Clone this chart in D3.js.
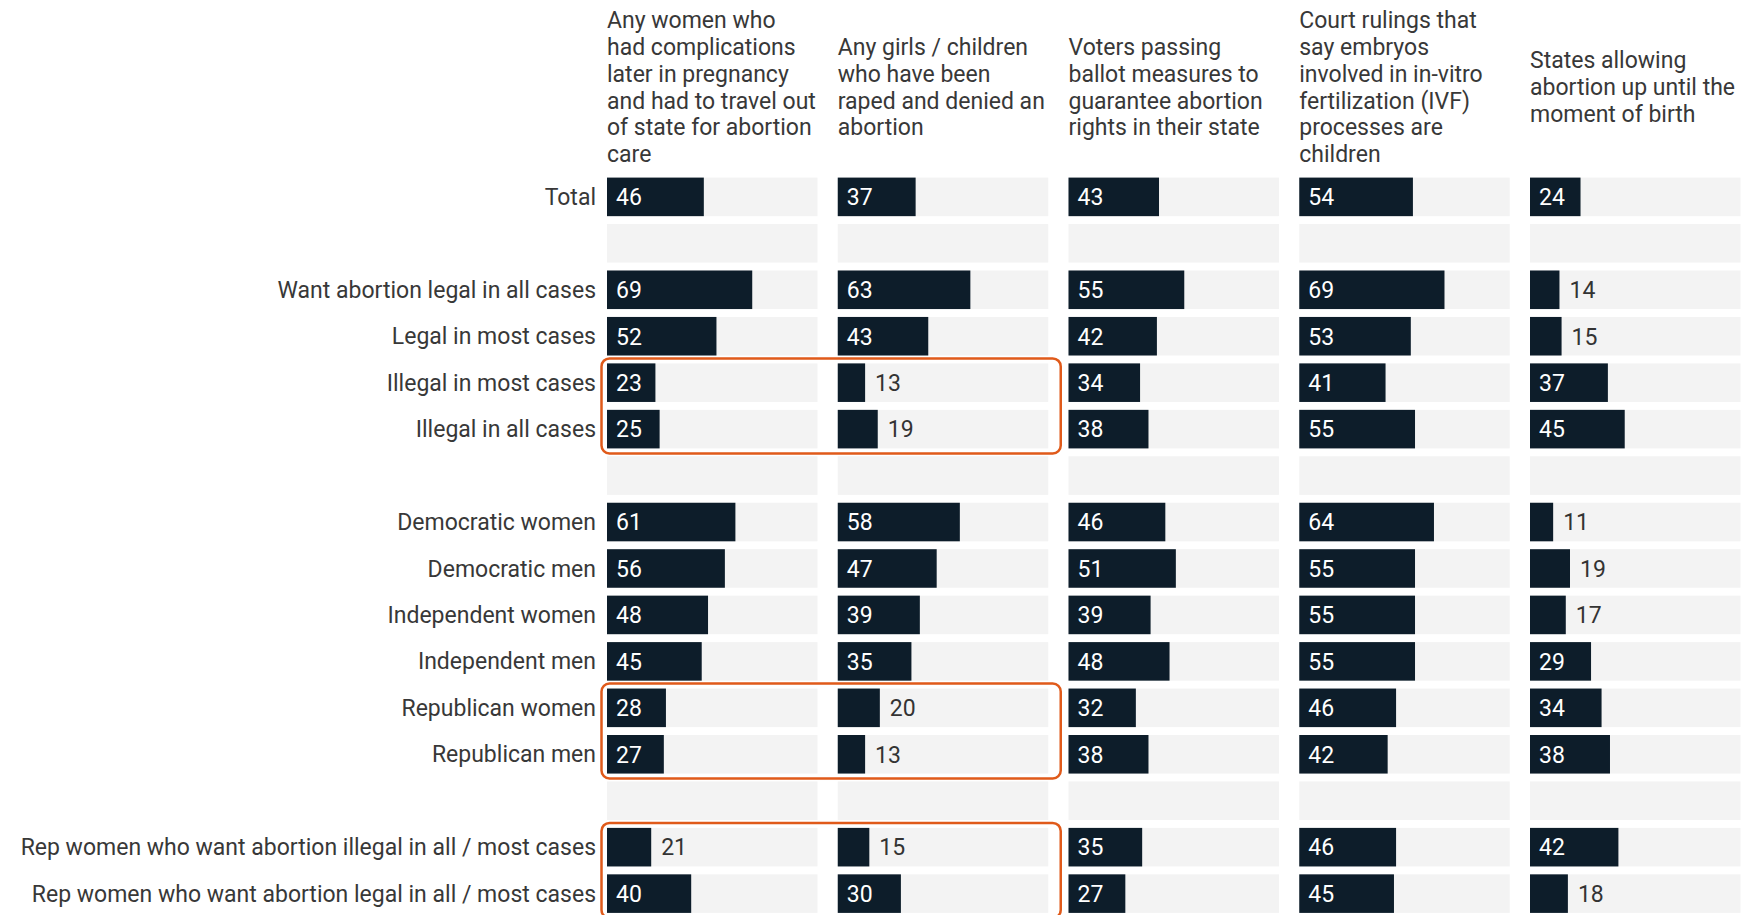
<!DOCTYPE html>
<html>
<head>
<meta charset="utf-8">
<script src="https://cdn.jsdelivr.net/npm/d3@7"></script>
<style>
  html, body { margin: 0; padding: 0; background: #ffffff; }
  svg { display: block; font-family: Roboto, "Noto Sans", sans-serif; }
</style>
</head>
<body>
<svg id="chart" width="1744" height="915"></svg>
<script>
// ---- data ----
const categories = [
  "Total", "",
  "Want abortion legal in all cases", "Legal in most cases", "Illegal in most cases", "Illegal in all cases", "",
  "Democratic women", "Democratic men", "Independent women", "Independent men", "Republican women", "Republican men", "",
  "Rep women who want abortion illegal in all / most cases", "Rep women who want abortion legal in all / most cases"
];

const headerComplications = ["Any women who", "had complications", "later in pregnancy", "and had to travel out", "of state for abortion", "care"];
const headerRaped = ["Any girls / children", "who have been", "raped and denied an", "abortion"];
const headerBallot = ["Voters passing", "ballot measures to", "guarantee abortion", "rights in their state"];
const headerIVF = ["Court rulings that", "say embryos", "involved in in-vitro", "fertilization (IVF)", "processes are", "children"];
const headerBirth = ["States allowing", "abortion up until the", "moment of birth"];

const valuesComplications = [46, null, 69, 52, 23, 25, null, 61, 56, 48, 45, 28, 27, null, 21, 40];
const valuesRaped         = [37, null, 63, 43, 13, 19, null, 58, 47, 39, 35, 20, 13, null, 15, 30];
const valuesBallot        = [43, null, 55, 42, 34, 38, null, 46, 51, 39, 48, 32, 38, null, 35, 27];
const valuesIVF           = [54, null, 69, 53, 41, 55, null, 64, 55, 55, 55, 46, 42, null, 46, 45];
const valuesBirth         = [24, null, 14, 15, 37, 45, null, 11, 19, 17, 29, 34, 38, null, 42, 18];

// highlighted groups: [first row, last row, first panel, last panel]
const highlights = [[4, 5, 0, 1], [11, 12, 0, 1], [14, 15, 0, 1]];

const headers = [headerComplications, headerRaped, headerBallot, headerIVF, headerBirth];
const series = [valuesComplications, valuesRaped, valuesBallot, valuesIVF, valuesBirth];

// ---- layout ----
const svg = d3.select("#chart");
const barColor = "#0d1d2a";
const bgColor = "#f3f3f3";
const textColor = "#383838";
const hiColor = "#e05a1a";
const fontSize = 23;

const panelStep = 230.75, panelPad = 0.0878;
const px = d3.scaleBand()
  .domain(d3.range(series.length))
  .range([607 - panelStep * panelPad / 2, 607 - panelStep * panelPad / 2 + panelStep * series.length])
  .paddingInner(panelPad).paddingOuter(panelPad / 2);

const rowStep = 46.45, rowPad = 0.17;
const y = d3.scaleBand()
  .domain(d3.range(categories.length))
  .range([177.6 - rowStep * rowPad / 2, 177.6 - rowStep * rowPad / 2 + rowStep * categories.length])
  .paddingInner(rowPad).paddingOuter(rowPad / 2);

const x = d3.scaleLinear().domain([0, 100]).range([0, px.bandwidth()]);

// row labels
svg.append("g").selectAll("text")
  .data(categories)
  .join("text")
  .attr("x", 596)
  .attr("y", (d, i) => y(i) + y.bandwidth() / 2)
  .attr("dy", "0.35em")
  .attr("text-anchor", "end")
  .attr("font-size", fontSize)
  .attr("fill", textColor)
  .text(d => d);

// panels
const headerCenter = 87, lineH = 26.9;
series.forEach((vals, p) => {
  const g = svg.append("g").attr("transform", `translate(${px(p)},0)`);

  // header
  const lines = headers[p];
  const t = g.append("text").attr("font-size", fontSize).attr("fill", textColor);
  lines.forEach((ln, k) => {
    t.append("tspan")
      .attr("x", 0)
      .attr("y", headerCenter + (k - (lines.length - 1) / 2) * lineH)
      .attr("dy", "0.35em")
      .text(ln);
  });

  // background bands
  g.selectAll("rect.bg")
    .data(vals)
    .join("rect")
    .attr("class", "bg")
    .attr("x", 0)
    .attr("y", (d, i) => y(i))
    .attr("width", px.bandwidth())
    .attr("height", y.bandwidth())
    .attr("fill", bgColor);

  const rows = vals.map((v, i) => ({ v, i })).filter(d => d.v !== null);

  g.selectAll("rect.bar")
    .data(rows)
    .join("rect")
    .attr("class", "bar")
    .attr("x", 0)
    .attr("y", d => y(d.i))
    .attr("width", d => x(d.v))
    .attr("height", y.bandwidth())
    .attr("fill", barColor);

  g.selectAll("text.val")
    .data(rows)
    .join("text")
    .attr("class", "val")
    .attr("x", d => x(d.v) > 45 ? 9 : x(d.v) + 10)
    .attr("y", d => y(d.i) + y.bandwidth() / 2)
    .attr("dy", "0.36em")
    .attr("font-size", fontSize)
    .attr("fill", d => x(d.v) > 45 ? "#ffffff" : "#333333")
    .text(d => d.v);
});

// highlight boxes
svg.append("g").selectAll("rect")
  .data(highlights)
  .join("rect")
  .attr("x", d => px(d[2]) - 5.5)
  .attr("y", d => y(d[0]) - 5)
  .attr("width", d => px(d[3]) + px.bandwidth() + 12.5 - (px(d[2]) - 5.5))
  .attr("height", d => y(d[1]) + y.bandwidth() + 5 - (y(d[0]) - 5))
  .attr("rx", 8)
  .attr("fill", "none")
  .attr("stroke", hiColor)
  .attr("stroke-width", 2.5);
</script>
</body>
</html>
